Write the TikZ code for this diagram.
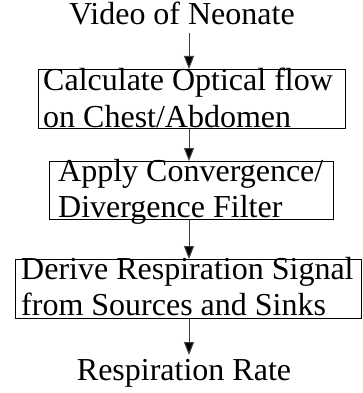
\documentclass[tikz,border=0pt]{standalone}
\usepackage{fontspec}
\setmainfont{Liberation Serif}
\usetikzlibrary{arrows.meta}
\tikzset{
  boxs/.style={draw=black, line width=0.9pt, inner sep=0pt, anchor=north west},
  txt/.style={font=\fontsize{32}{36}\selectfont, align=left, inner sep=0pt, anchor=base west},
  ttl/.style={font=\fontsize{32}{36}\selectfont, inner sep=0pt, anchor=base},
  arr/.style={draw=black!75, line width=1pt, -{Triangle[length=13pt,width=10pt,fill=black]}}
}
\begin{document}
\begin{tikzpicture}[x=1pt,y=-1pt]
\useasboundingbox (0,0) rectangle (363,393);
\node[ttl] (t) at (182,25) {Video of Neonate};
\node[boxs, minimum width=307pt, minimum height=59pt] (b1) at (38,69) {};
\node[txt] (l1) at (43,127) {Calculate Optical flow\\on Chest/Abdomen};
\node[boxs, minimum width=284pt, minimum height=58pt] (b2) at (49,161) {};
\node[txt] (l2) at (58,217) {Apply Convergence/\\Divergence Filter};
\node[boxs, minimum width=346pt, minimum height=59pt] (b3) at (15,259) {};
\node[txt] (l3) at (21,315) {Derive Respiration Signal\\from Sources and Sinks};
\node[ttl] (r) at (184,380) {Respiration Rate};
\coordinate (ax) at (189,0);
\coordinate (a0) at (189,33);
\draw[arr] (a0) -- (b1.north -| ax);
\draw[arr] (b1.south -| ax) -- (b2.north -| ax);
\draw[arr] (b2.south -| ax) -- (b3.north -| ax);
\coordinate (a4) at (189,355);
\draw[arr] (b3.south -| ax) -- (a4);
\end{tikzpicture}
\end{document}
